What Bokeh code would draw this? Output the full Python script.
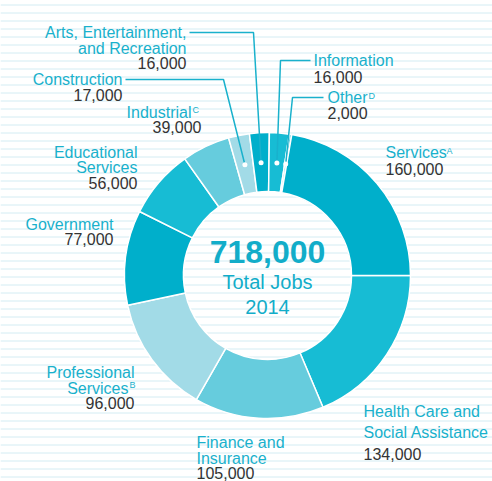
import math
from bokeh.plotting import figure
from bokeh.models import Range1d, BoxAnnotation, ColumnDataSource
from bokeh.core.properties import value
from bokeh.embed import file_html
from bokeh.resources import INLINE

# ---------------- data ----------------
categories = ["Health Care and Social Assistance", "Finance and Insurance",
              "Professional Services", "Government", "Educational Services",
              "Industrial", "Construction", "Arts, Entertainment, and Recreation",
              "Information", "Other", "Services"]
jobs = [134000, 105000, 96000, 77000, 56000, 39000, 17000, 16000, 16000, 2000, 160000]
footnotes = ["", "", "B", "", "", "C", "", "", "", "D", "A"]
name_lines = [["Health Care and", "Social Assistance"], ["Finance and", "Insurance"],
              ["Professional", "Services"], ["Government"], ["Educational", "Services"],
              ["Industrial"], ["Construction"], ["Arts, Entertainment,", "and Recreation"],
              ["Information"], ["Other"], ["Services"]]
center_sub = ["Total Jobs", "2014"]

# ---------------- style / layout ----------------
W, H = 492, 481
def Y(py):
    return H - py  # page-pixel y (down) -> data y (up)

def TY(py, size):
    # baseline in page px -> data y, compensating the renderer's baseline offset
    return H - (py - 0.33 * size)

DARK, MID, LMID, LIGHT = "#00afcb", "#17bcd4", "#66ccdd", "#a2dbe7"
slice_colors = [MID, LMID, LIGHT, DARK, MID, LMID, LIGHT, DARK, MID, LMID, DARK]
label_color = "#19b1cc"
value_color = "#333333"
line_color = "#19b1cc"
FONT = value("Liberation Sans")

CX, CY = 267, Y(275)
R_IN, R_OUT = 84, 143
R_DOT = 113

# label layout: x anchor, align, name baselines, value x, value baseline (page px)
label_layout = {
    "Health Care and Social Assistance": (363, "left", [416, 437], 363, 459),
    "Finance and Insurance": (196, "left", [447, 463], 196, 478),
    "Professional Services": (134, "right", [377, 393], 134, 408),
    "Government": (113, "right", [229], 113, 244),
    "Educational Services": (137, "right", [157, 172], 137, 188),
    "Industrial": (190, "right", [117], 201, 132),
    "Construction": (122, "right", [84], 122, 100),
    "Arts, Entertainment, and Recreation": (186, "right", [37, 53], 186, 68),
    "Information": (313, "left", [65], 313, 82),
    "Other": (327, "left", [102], 327, 118),
    "Services": (385, "left", [157.5], 385, 174),
}
# line index that carries the footnote mark, mark position (page px)
footnote_pos = {
    "Professional Services": (1, 129, 387.5, "right"),
    "Industrial": (0, 192, 112.5, "right"),
    "Other": (0, 368, 98, "left"),
    "Services": (0, 446, 153, "left"),
}
# leader lines: elbow point and label-side end (page px)
leaders = {
    "Construction": ((223, 79), 125),
    "Arts, Entertainment, and Recreation": ((253, 32), 189),
    "Information": ((280, 60), 310),
    "Other": ((292, 97), 323),
}

# ---------------- figure ----------------
p = figure(width=W, height=H, output_backend="svg", toolbar_location=None,
           x_range=Range1d(0, W), y_range=Range1d(0, H),
           min_border=0, background_fill_color="white", border_fill_color="white")
p.axis.visible = False
p.grid.visible = False
p.outline_line_color = None

stripes = BoxAnnotation(fill_alpha=0, line_alpha=0, hatch_pattern="horizontal_line",
                        hatch_color="#d3ecf3", hatch_weight=1, hatch_scale=8,
                        level="underlay")
p.add_layout(stripes)

total = sum(jobs)
starts, ends, mids = [], [], []
a = 0.0
for v in jobs:
    span = v / total * 2 * math.pi
    starts.append(a - span)
    ends.append(a)
    mids.append(a - span / 2)
    a -= span

src = ColumnDataSource(dict(cat=categories, start=starts, end=ends, color=slice_colors))
p.annular_wedge(x=CX, y=CY, inner_radius=R_IN, outer_radius=R_OUT,
                start_angle="start", end_angle="end", fill_color="color",
                line_color="white", line_width=1.5, source=src)

# leader lines + dots
dot_x, dot_y = [], []
for cat, ((ex, ey), lx) in leaders.items():
    i = categories.index(cat)
    dx = CX + R_DOT * math.cos(mids[i])
    dy = CY + R_DOT * math.sin(mids[i])
    p.line(x=[lx, ex, dx], y=[Y(ey), Y(ey), dy], line_color=line_color, line_width=1.5)
    dot_x.append(dx)
    dot_y.append(dy)
p.scatter(x=dot_x, y=dot_y, size=5, marker="circle", fill_color="white", line_color=None)

# labels
for i, cat in enumerate(categories):
    x, align, baselines, vx, vb = label_layout[cat]
    fn = footnotes[i]
    for j, (line, b) in enumerate(zip(name_lines[i], baselines)):
        lx = x
        if fn and footnote_pos[cat][0] == j and align == "right":
            lx = footnote_pos[cat][1] - 1
        p.text(x=[lx], y=[TY(b, 16)], text=[line], text_font=FONT, text_font_size="16px",
               text_color=label_color, text_align=align, text_baseline="alphabetic")
    if fn:
        _, fx, fb, _ = footnote_pos[cat]
        p.text(x=[fx], y=[TY(fb, 9)], text=[fn], text_font=FONT, text_font_size="9px",
               text_color=label_color, text_align="left", text_baseline="alphabetic")
    p.text(x=[vx], y=[TY(vb, 16)], text=[f"{jobs[i]:,}"], text_font=FONT,
           text_font_size="16px", text_color=value_color, text_align=align,
           text_baseline="alphabetic")

# centre
p.text(x=[CX], y=[TY(262, 32)], text=[f"{total:,}"], text_font=FONT, text_font_size="32px",
       text_font_style="bold", text_color="#12adc9", text_align="center",
       text_baseline="alphabetic")
p.text(x=[CX, CX], y=[TY(288.3, 20), TY(313.3, 20)], text=center_sub, text_font=FONT,
       text_font_size="20px", text_color="#12adc9", text_align="center",
       text_baseline="alphabetic")

open("out.html", "w").write(file_html(p, INLINE))
